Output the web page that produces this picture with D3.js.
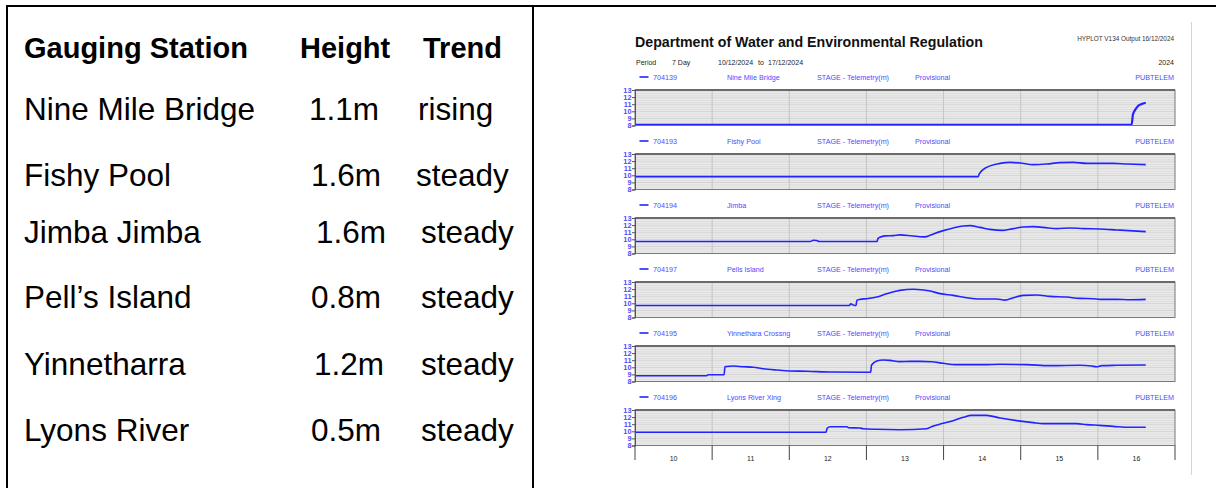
<!DOCTYPE html>
<html>
<head>
<meta charset="utf-8">
<script src="https://cdn.jsdelivr.net/npm/d3@7"></script>
<style>
  html, body { margin: 0; padding: 0; background: #fff; }
  svg { display: block; }
  text { font-family: "Liberation Sans", Arial, Helvetica, sans-serif; }
</style>
</head>
<body>
<svg id="chart" width="1216" height="488"></svg>
<script>
// ---- Summary table ----
const tableHeaders = ["Gauging Station", "Height", "Trend"];
const tableStations = ["Nine Mile Bridge", "Fishy Pool", "Jimba Jimba", "Pell\u2019s Island", "Yinnetharra", "Lyons River"];
const tableHeights = ["1.1m", "1.6m", "1.6m", "0.8m", "1.2m", "0.5m"];
const tableTrends = ["rising", "steady", "steady", "steady", "steady", "steady"];

// ---- Hydrograph headers ----
const stationIds = ["704139", "704193", "704194", "704197", "704195", "704196"];
const stationNames = ["Nine Mile Bridge", "Fishy Pool", "Jimba", "Pells Island", "Yinnethara Crossng", "Lyons River Xing"];
const dayTicks = ["10", "11", "12", "13", "14", "15", "16"];
const stageTicks = [8, 9, 10, 11, 12, 13];

// Stage readings: [hours after 10/12/2024 00:00, stage (m)]
const nineMileBridge = [[0, 8.1], [154.5, 8.1], [154.9, 9.5], [155.6, 10.2], [156.5, 10.75], [157.5, 11.0], [158.9, 11.2]];
const fishyPool = [[0, 9.82], [106.8, 9.82], [107.1, 10.2], [109.4, 11.12], [113.6, 11.68], [116.7, 11.82], [119.8, 11.73],
  [123.9, 11.5], [128.1, 11.59], [132.2, 11.78], [136.4, 11.82], [140.5, 11.68], [148.8, 11.68], [153.0, 11.59], [158.9, 11.5]];
const jimba = [[0, 9.68], [54.5, 9.68], [55.5, 9.86], [56.5, 9.84], [57.3, 9.68], [75.3, 9.68], [75.6, 10.1], [76.2, 10.28],
  [77.8, 10.48], [80.4, 10.52], [82.4, 10.62], [86.0, 10.5], [89.7, 10.34], [90.7, 10.38], [92.8, 10.76], [95.9, 11.22],
  [99.0, 11.6], [102.1, 11.88], [104.2, 11.92], [107.3, 11.68], [110.4, 11.4], [114.6, 11.26], [117.7, 11.5], [120.8, 11.74],
  [123.9, 11.78], [127.0, 11.68], [131.2, 11.5], [135.3, 11.6], [139.5, 11.5], [144.6, 11.46], [149.9, 11.32], [155.0, 11.18],
  [158.9, 11.08]];
const pellsIsland = [[0, 9.7], [66.7, 9.7], [67.1, 9.94], [67.7, 9.8], [68.4, 9.7], [68.8, 9.7], [69.0, 10.41], [70.0, 10.55],
  [72.1, 10.65], [75.2, 10.88], [78.3, 11.36], [81.4, 11.73], [82.4, 11.82], [86.6, 11.97], [89.7, 11.87], [91.8, 11.73],
  [94.9, 11.36], [99.0, 11.12], [103.2, 10.79], [107.3, 10.6], [112.5, 10.6], [115.1, 10.45], [117.7, 10.79], [120.8, 11.12],
  [125.0, 11.16], [129.1, 10.97], [134.3, 10.88], [138.4, 10.69], [142.6, 10.65], [144.6, 10.55], [149.9, 10.55], [154.0, 10.5],
  [158.9, 10.55]];
const yinnetharraCrossing = [[0, 8.82], [22.3, 8.82], [22.7, 8.96], [27.7, 8.96], [28.0, 10.08], [30.6, 10.18], [33.7, 10.08],
  [36.8, 10.0], [39.9, 9.8], [44.1, 9.62], [48.2, 9.48], [53.4, 9.44], [60.7, 9.34], [71.0, 9.3], [73.3, 9.3], [73.6, 10.32],
  [75.2, 10.89], [77.2, 11.03], [79.3, 10.98], [82.4, 10.8], [85.6, 10.84], [88.7, 10.84], [92.3, 10.79], [95.9, 10.56],
  [100.1, 10.37], [108.4, 10.37], [113.6, 10.42], [121.9, 10.37], [129.1, 10.23], [138.4, 10.28], [142.1, 10.18], [143.6, 10.08],
  [145.2, 10.23], [149.9, 10.28], [158.9, 10.32]];
const lyonsRiverXing = [[0, 9.86], [59.4, 9.86], [59.8, 10.42], [60.7, 10.65], [65.9, 10.65], [66.4, 10.51], [70.0, 10.46],
  [71.0, 10.37], [75.2, 10.28], [82.4, 10.22], [90.7, 10.37], [92.8, 10.75], [95.9, 11.12], [99.0, 11.5], [102.1, 11.97],
  [104.7, 12.25], [109.4, 12.25], [113.6, 11.87], [118.8, 11.5], [123.9, 11.22], [127.0, 11.08], [137.4, 11.08], [140.5, 10.94],
  [144.6, 10.84], [148.8, 10.7], [154.0, 10.56], [158.9, 10.56]];

const stageSeries = [nineMileBridge, fishyPool, jimba, pellsIsland, yinnetharraCrossing, lyonsRiverXing];

// ---------------------------------------------------------------
const svg = d3.select("#chart");
svg.append("rect").attr("width", 1216).attr("height", 488).attr("fill", "#fff");

// Outer frame and divider
const frame = svg.append("g").attr("stroke", "#000").attr("stroke-width", 2);
frame.append("line").attr("x1", 6).attr("x2", 1216).attr("y1", 6).attr("y2", 6);
frame.append("line").attr("x1", 7).attr("x2", 7).attr("y1", 5).attr("y2", 488);
frame.append("line").attr("x1", 533).attr("x2", 533).attr("y1", 5).attr("y2", 488);

// ---- Table ----
const colX = [24, 300, 423];
const heightX = [309, 311, 316, 311, 314, 311];
const trendX = [418, 416, 421, 421, 421, 421];
const rowBase = [120, 186, 243, 308, 375, 441];
const table = svg.append("g").attr("fill", "#000");
table.selectAll("text.h").data(tableHeaders).join("text")
  .attr("class", "h").attr("x", (d, i) => colX[i]).attr("y", 58)
  .attr("font-size", 29).attr("font-weight", "bold").text(d => d);
tableStations.forEach((name, i) => {
  table.append("text").attr("x", 24).attr("y", rowBase[i]).attr("font-size", 31.5).text(name);
  table.append("text").attr("x", heightX[i]).attr("y", rowBase[i]).attr("font-size", 31.5).text(tableHeights[i]);
  table.append("text").attr("x", trendX[i]).attr("y", rowBase[i]).attr("font-size", 31.5).text(tableTrends[i]);
});

// ---- Hydrograph sheet ----
const blue = "#4b4bff";
const lineBlue = "#2323ff";
const t0 = new Date(2024, 11, 10);
const t1 = new Date(2024, 11, 17);
const x = d3.scaleTime().domain([t0, t1]).range([635, 1175]);
const hourToDate = h => new Date(t0.getTime() + h * 3600 * 1000);

svg.append("text").attr("x", 635).attr("y", 47).attr("font-size", 14.2).attr("font-weight", "bold")
  .attr("fill", "#111").text("Department of Water and Environmental Regulation");
svg.append("text").attr("x", 1174).attr("y", 40.5).attr("font-size", 6.4).attr("text-anchor", "end")
  .attr("fill", "#333").text("HYPLOT V134  Output 16/12/2024");
const period = svg.append("g").attr("font-size", 7).attr("fill", "#222");
period.append("text").attr("x", 636).attr("y", 64.5).text("Period");
period.append("text").attr("x", 672).attr("y", 64.5).text("7 Day");
period.append("text").attr("x", 718).attr("y", 64.5).text("10/12/2024");
period.append("text").attr("x", 758).attr("y", 64.5).text("to");
period.append("text").attr("x", 768).attr("y", 64.5).text("17/12/2024");
period.append("text").attr("x", 1174).attr("y", 64.5).attr("text-anchor", "end").text("2024");

const panelTop = i => 90 + i * 64;
const panelH = 35.5;
const dayEdges = d3.range(0, 8).map(d => d3.timeDay.offset(t0, d));
const minorStage = d3.range(8, 13.001, 0.25);

stageSeries.forEach((series, i) => {
  const top = panelTop(i);
  const y = d3.scaleLinear().domain([8, 13]).range([top + panelH, top]);
  const g = svg.append("g");

  // header row
  const hy = top - 10.5;
  g.append("line").attr("x1", 639.5).attr("x2", 648.5).attr("y1", top - 13).attr("y2", top - 13)
    .attr("stroke", lineBlue).attr("stroke-width", 1.6);
  const hdr = g.append("g").attr("font-size", 7.2).attr("fill", blue);
  hdr.append("text").attr("x", 653).attr("y", hy).text(stationIds[i]);
  hdr.append("text").attr("x", 727).attr("y", hy).text(stationNames[i]);
  hdr.append("text").attr("x", 817).attr("y", hy).text("STAGE - Telemetry(m)");
  hdr.append("text").attr("x", 915).attr("y", hy).text("Provisional");
  hdr.append("text").attr("x", 1174).attr("y", hy).attr("text-anchor", "end").text("PUBTELEM");

  // plot background and grid
  g.append("rect").attr("x", 635).attr("y", top).attr("width", 540).attr("height", panelH).attr("fill", "#f1f1f1");
  g.append("g").selectAll("line").data(minorStage).join("line")
    .attr("x1", 635).attr("x2", 1175).attr("y1", d => y(d)).attr("y2", d => y(d))
    .attr("stroke", d => Number.isInteger(d) ? "#c6c6c6" : "#d6d6d6").attr("stroke-width", 0.8);
  g.append("g").selectAll("line").data(dayEdges.slice(1, 7)).join("line")
    .attr("x1", d => x(d)).attr("x2", d => x(d)).attr("y1", top).attr("y2", top + panelH)
    .attr("stroke", "#c4c4c4").attr("stroke-width", 1);

  // stage trace
  const line = d3.line().x(d => x(hourToDate(d[0]))).y(d => y(d[1])).curve(d3.curveMonotoneX);
  g.append("path").datum(series).attr("d", line).attr("fill", "none")
    .attr("stroke", lineBlue).attr("stroke-width", i === 0 ? 2.2 : 1.6).attr("stroke-linejoin", "round");

  // border
  g.append("rect").attr("x", 635).attr("y", top).attr("width", 540).attr("height", panelH)
    .attr("fill", "none").attr("stroke", "#777").attr("stroke-width", 1);
  g.append("line").attr("x1", 635).attr("x2", 1175).attr("y1", top).attr("y2", top)
    .attr("stroke", "#555").attr("stroke-width", 1.3);

  // stage axis
  const axis = d3.axisLeft(y).tickValues(stageTicks).tickFormat(d3.format("d")).tickSize(3).tickPadding(0.5);
  const ag = g.append("g").attr("transform", "translate(635,0)").call(axis);
  ag.select(".domain").attr("stroke", "#555");
  ag.selectAll(".tick line").attr("stroke", "#555");
  ag.selectAll(".tick text").attr("fill", blue).attr("font-size", 7.4).attr("font-weight", "bold")
    .attr("font-family", "\"Liberation Sans\", Arial, sans-serif");
});

// ---- Day axis under the last panel ----
const axisTop = panelTop(5) + panelH;
const xg = svg.append("g");
xg.selectAll("line").data(dayEdges).join("line")
  .attr("x1", d => x(d)).attr("x2", d => x(d)).attr("y1", axisTop).attr("y2", axisTop + 14.5)
  .attr("stroke", "#444").attr("stroke-width", 1);
xg.selectAll("text").data(dayTicks).join("text")
  .attr("x", (d, i) => (x(dayEdges[i]) + x(dayEdges[i + 1])) / 2).attr("y", axisTop + 15)
  .attr("text-anchor", "middle").attr("font-size", 7).attr("fill", "#222").text(d => d);

// yellow rule on the right edge of the sheet
svg.append("line").attr("x1", 1191.5).attr("x2", 1191.5).attr("y1", 22).attr("y2", 475)
  .attr("stroke", "#f2e23a").attr("stroke-width", 1);
</script>
</body>
</html>
